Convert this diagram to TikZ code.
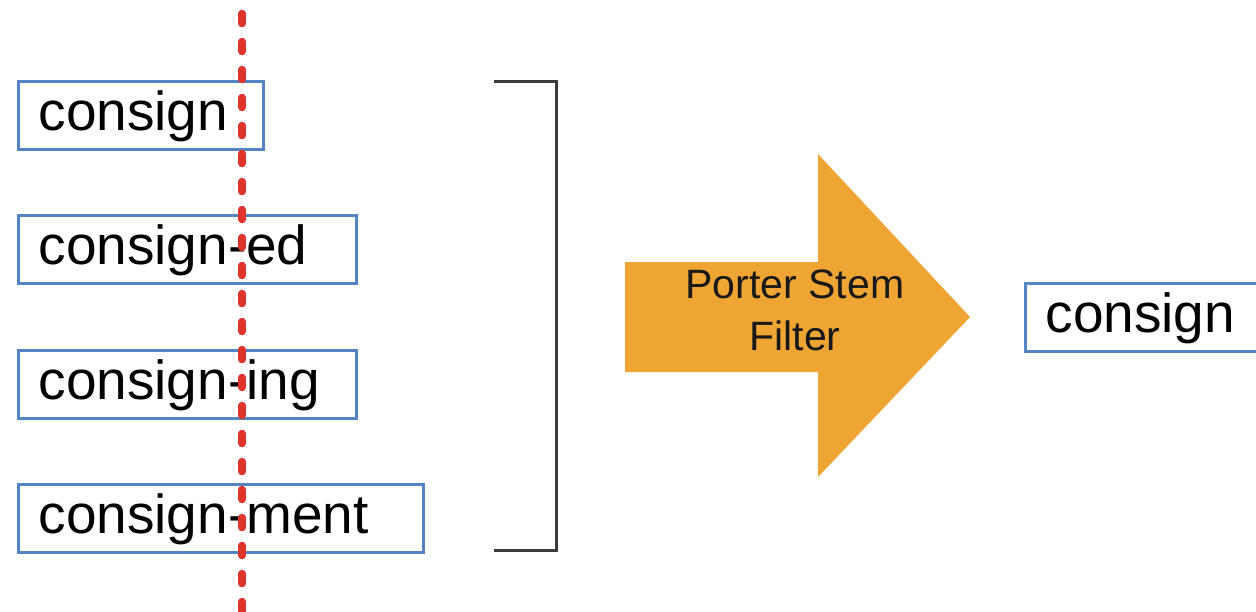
\documentclass[tikz,border=0pt]{standalone}
\usepackage{fontspec}
\setmainfont{Liberation Sans}
\definecolor{boxblue}{RGB}{84,132,196}
\definecolor{arroworange}{RGB}{238,165,52}
\definecolor{cutred}{RGB}{222,52,44}
\definecolor{brk}{RGB}{60,60,60}
\begin{document}
\begin{tikzpicture}[x=1pt,y=-1pt,
  wordbox/.style={draw=boxblue, line width=3pt, fill=white, anchor=north west,
    minimum height=68pt, inner xsep=20pt, inner ysep=0pt, align=left,
    font=\fontsize{55}{60}\selectfont, text height=41pt, text depth=12pt},
  cutline/.style={cutred, line width=7.5pt, line cap=round, dash pattern=on 10pt off 18pt},
  bracketline/.style={brk, line width=3pt},
  filterlabel/.style={align=center, font=\fontsize{41}{52}\selectfont, text=black!90}]
\useasboundingbox (0,0) rectangle (1256,611);
\clip (0,0) rectangle (1256,611);
% word boxes
\node[wordbox, text width=205pt] (w1) at (17,80) {consign};
\node[wordbox, text width=298pt] (w2) at (17,214) {consign-ed};
\node[wordbox, text width=298pt] (w3) at (17,349) {consign-ing};
\node[wordbox, text width=365pt] (w4) at (17,483) {consign-ment};
% cut line
\coordinate (ctop) at (242,13.5);
\coordinate (cbot) at (242,620);
\draw[cutline] (ctop) -- (cbot);
% bracket
\coordinate (b1) at (494,81);
\coordinate (b2) at (556,81);
\coordinate (b3) at (556,550);
\coordinate (b4) at (494,550);
\draw[bracketline] (b1) -- (b2) -- (b3) -- (b4);
% arrow
\fill[arroworange] (625,262) -- (818,262) -- (818,154) -- (970,317) -- (818,477) -- (818,372) -- (625,372) -- cycle;
\node[filterlabel] (filt) at (795,310) {Porter Stem\\Filter};
% result
\node[wordbox, text width=210pt] (res) at (1024,282) {consign};
\end{tikzpicture}
\end{document}
